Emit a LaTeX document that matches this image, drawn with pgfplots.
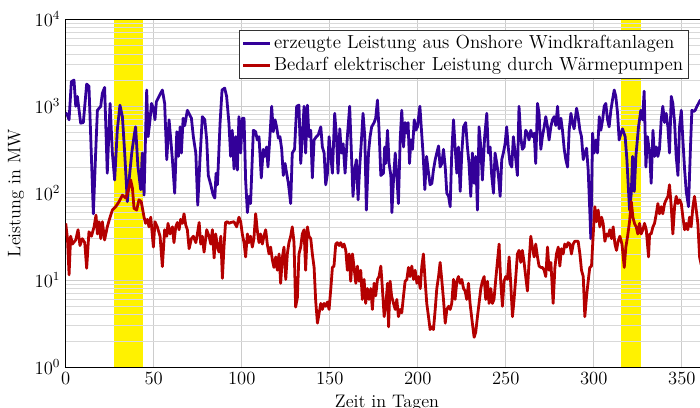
\documentclass[border=0pt]{standalone}
\usepackage{pgfplots}
\pgfplotsset{compat=1.18}
\definecolor{windblue}{RGB}{51,0,153}
\definecolor{heatred}{RGB}{180,0,0}
\begin{document}
\begin{tikzpicture}
\begin{axis}[
  name=ax,
  set layers,
  scale only axis,
  width=414.5pt, height=224.3pt,
  xmin=0, xmax=365,
  ymode=log, ymin=1, ymax=10000,
  xtick={0,50,...,350},
  ytick={1,10,100,1000,10000},
  grid=both,
  major grid style={gray!40, line width=0.6pt},
  minor grid style={gray!30, line width=0.5pt},
  tick style={draw=none},
  tick label style={font=\fontsize{11.7}{14}\selectfont},
  label style={font=\fontsize{11.7}{14}\selectfont},
  xlabel={Zeit in Tagen},
  ylabel={Leistung in MW},
  legend pos=north east,
  legend cell align=left,
  legend style={draw=black!80, fill=white, font=\fontsize{12.2}{14.4}\selectfont, inner sep=1.5pt},
]
\addplot[fill=yellow, draw=none, forget plot, on layer=axis background] coordinates {(27.5,1) (27.5,10000) (44,10000) (44,1)} -- cycle;
\addplot[fill=yellow, draw=none, forget plot, on layer=axis background] coordinates {(315.5,1) (315.5,10000) (327,10000) (327,1)} -- cycle;
\addplot[windblue, line width=1.8pt, line join=round] coordinates {
(0,850) (0.9,794) (1.9,700) (3.2,1920) (4.7,2000) (5.7,1000) (6.6,1300) (8.5,640) (10,650) (11.9,1800) (13.2,1700) (14.2,447) (15.7,58) (17,288) (18,900) (19.9,1000) (20.8,1410) (22.1,1650) (23.6,170) (25.2,1080) (26.5,290) (27.8,142) (29.3,534) (30.8,1030) (32.2,760) (33.5,290) (35,80) (36,142) (37.5,290) (38.8,447) (39.7,580) (41,205) (42.6,110) (43.5,290) (44.5,95)
(46,1540) (46.8,447) (47.9,700) (48.7,1080) (49.8,950) (50.7,700) (51.5,1130) (53,1300) (54.9,1540) (56.2,1080) (57.4,243) (58.7,700) (59.7,410) (60.6,243) (61.9,100) (63.1,510) (64,265) (65,580) (65.7,290) (66.7,730) (67.6,600) (69.1,900) (70,830) (71.4,730) (72.5,447) (73.9,290) (75,73) (76.3,255) (77.6,760) (79,700) (80.1,410) (81,160) (82.4,125) (83.7,96) (84.7,88) (85.4,170) (86.2,125) (87.7,650) (88.8,1540) (90.3,1620)
(91.4,1300) (92.7,650) (93.7,265) (94.6,530) (95.6,190) (96.5,447) (97.5,185) (98.4,760) (99.4,290) (100.3,730) (101.3,730) (102.2,142) (103.2,60) (104.1,92) (105,76) (106.6,530) (107.9,510) (108.8,410) (109.8,447) (111.1,150) (112.2,320) (113,265) (114.1,340) (114.9,200) (116,447) (117,1000) (117.9,510) (118.9,700) (119.8,580) (120.8,430) (121.7,447) (122.7,320) (123.6,160) (124.6,220) (125.5,170) (126.5,130) (127.8,76) (128.7,290) (130,320) (131.2,1000) (132.5,1030) (133.5,220) (134.4,447) (135.4,1000)
(136.3,290) (137.3,1030) (138.2,447) (139.2,530) (140.1,150) (141.1,410) (142.4,447) (143.5,470) (144.9,580) (145.8,340) (146.8,290) (147.7,125) (148.7,170) (149.6,447) (150.6,265) (151.5,170) (152.8,830) (153.8,447) (154.7,170) (155.7,550) (156.6,290) (157.6,370) (158.7,170) (160,447) (161.3,1000) (162.3,290) (163.2,92) (164.2,185) (165.1,243) (166.1,84) (167,200) (168,410) (168.9,830) (169.9,447) (170.8,64) (172,290) (172.9,447) (173.8,580) (175.2,650) (176.1,730) (177.1,1180) (178,530) (179,160) (180.5,170) (181.2,340)
(181.8,220) (182.8,530) (183.7,220) (184.7,160) (185.3,60) (186.2,142) (187.2,290) (188.1,160) (189,76) (190,410) (190.9,900) (191.9,340) (192.8,650) (193.8,490) (194.5,650) (195.3,220) (196.1,410) (197,320) (198,700) (198.9,530) (199.8,580) (201.2,1000) (202.1,530) (203.1,265) (204,110) (205,265) (205.9,185) (207,125) (208,130) (208.9,185) (209.9,243) (210.8,290) (211.8,350) (212.7,200) (213.7,220) (214.6,320) (215.6,200) (216.5,100) (217.5,92) (218.4,70) (219.3,290) (220.3,700) (221.2,340) (222.2,170) (223.1,340) (224.1,105) (225,290) (226,580)
(227.2,650) (228.2,340) (229.1,220) (230.1,92) (231,290) (232,130) (232.9,265) (233.9,64) (234.8,580) (235.8,340) (236.7,142) (238,447) (239.2,830) (240.1,290) (241.1,340) (242,160) (243,100) (243.9,290) (244.9,220) (245.8,160) (246.8,92) (247.7,243) (248.6,290) (249.6,370) (250.5,580) (251.5,320) (252.4,220) (253.4,200) (254.3,447) (255.3,290) (256.6,160) (257.5,1000) (258.5,447) (259.4,320) (260.4,340) (261.3,530) (262.3,490) (263.2,410) (264.2,530) (265.1,447) (266.1,490) (267,220) (268,1080) (268.9,830) (269.9,320) (270.8,447)
(271.8,580) (272.7,760) (273.7,580) (274.6,410) (275.6,580) (276.5,700) (277.5,760) (278.4,600) (279.4,1000) (280.3,550) (281.3,730) (282.2,530) (283.2,320) (284.1,243) (285.1,200) (286,530) (287,830) (287.9,650) (288.8,550) (290.2,950) (291.1,760) (292.1,530) (293,447) (294,243) (294.9,290) (295.9,330) (296.8,185) (297.7,64) (298.3,30) (299.3,490) (300.2,290) (301.2,410) (302.1,290) (303.1,760) (304,530) (305,700) (305.9,1000) (306.8,1080) (307.8,700) (308.7,580) (309.7,900) (310.6,1180) (311.6,1540) (312.5,1300) (313.5,830) (314.4,410)
(315.4,490) (316.3,550) (317.8,447) (318.8,243) (320.3,64) (321.3,100) (322,265) (323,105) (323.9,265) (325.4,580) (326.7,900) (327.7,700) (328.6,1490) (329.6,200) (330.5,447) (331.7,290) (332.6,130) (333.6,530) (334.5,265) (335.5,340) (336.4,265) (337.3,320) (338.3,700) (339.2,1000) (340.2,650) (341.1,830) (342.1,580) (343,290) (344,1300) (344.9,1080) (345.9,650) (346.8,265) (347.8,160) (348.7,580) (349.7,900) (350.6,410) (351.6,185) (352.5,105) (353.8,70) (354.8,290) (355.7,900) (356.7,870) (357.6,900) (358.6,1000) (359.5,1080) (360.5,1180) (361.5,1000) (362.5,1100) (363.5,950) (364.5,1050) (365,1000)
};
\addlegendentry{erzeugte Leistung aus Onshore Windkraftanlagen}
\addplot[heatred, line width=1.8pt, line join=round] coordinates {
(0,45) (1,30) (1.9,11.5) (2.8,32) (3.8,26) (5.7,29) (7,38) (8.1,25) (9.4,30) (10.8,27) (11.9,13.7) (13.2,36) (14.6,32) (16.1,41) (17.2,56) (18,34) (18.9,47) (19.9,30) (20.8,47) (22.1,29) (23.6,41) (25.2,53) (26.5,64) (28.4,70) (30.3,80) (32.2,95) (34.1,88) (35.9,114) (36.9,142) (37.9,114) (38.8,67) (40.3,64) (41.6,84) (42.9,80) (44.5,53)
(45.4,45) (46.4,50) (47.3,41) (48.3,53) (49.8,24) (50.7,47) (52,41) (53.6,32) (54.9,14.3) (56.2,38) (57.4,32) (58.1,45) (59.3,34) (60.6,41) (61.5,27) (62.5,41) (63.4,46) (64.4,38) (65.3,50) (66.3,45) (67.2,58) (68.2,43) (69.1,38) (70.1,23) (71.4,30) (72.5,32) (73.9,27) (74.8,34) (75.8,46) (76.7,26) (77.6,32) (78.6,21) (80.1,38) (81.4,32) (82.4,26) (83.3,38) (84.3,18) (85.2,34) (86.2,24) (87.1,21) (88.1,32) (89,10.5) (89.9,24)
(90.8,46) (91.8,47) (92.7,45) (93.7,46) (95.6,47) (97.1,41) (98.4,53) (99.4,47) (100.3,34) (101.3,27) (102.2,18.5) (103.2,34) (104.1,27) (105,32) (106,24) (106.9,30) (107.9,58) (108.8,38) (109.8,27) (110.7,34) (111.7,26) (112.6,32) (113.6,38) (114.5,26) (115.5,20) (116.4,24) (117.4,17) (118.3,14) (119.3,18.5) (120.2,13) (121.2,20) (122.1,9.2) (123.1,18.5) (124,24) (125,10.2) (125.9,20) (126.8,27) (127.8,32) (128.7,41) (129.7,27) (130.6,4.9) (131.6,6.3) (132.5,20) (133.5,24) (134.4,34) (135.4,38)
(136.3,13) (137.3,41) (138.2,32) (139.2,30) (140.1,20) (141.1,14) (142,5.8) (143,3.2) (143.9,4.1) (144.9,5.4) (145.8,4.6) (146.8,5.4) (147.7,5.0) (148.7,5.6) (149.6,4.6) (150.6,8) (151.5,14) (152.4,14.5) (153.4,26) (154.3,27) (155.3,25) (156.2,27) (157.2,24) (158.1,26) (159.1,22) (160,13) (161,20) (161.9,9.7) (162.9,20) (163.8,14) (164.8,9.2) (165.7,14.5) (166.7,9.7) (167.6,13) (168.5,6) (169.5,10.2) (170.4,5.4) (171.4,8) (172.3,6) (173.3,8) (174.2,4.6) (175.2,9.2) (176.1,6.6) (177.1,10.2) (178,11) (179,14.5) (179.9,8)
(180.9,3.8) (181.8,5) (182.8,9.2) (183.4,2.9) (184.3,9.7) (185.1,6.6) (186.2,5.4) (187.2,4.6) (188.1,6) (189,3.8) (190,4.6) (190.9,4.2) (191.9,6.6) (192.8,9.7) (193.8,10.2) (194.7,14) (195.6,11) (196.6,14.5) (197.6,10.2) (198.5,13) (199.5,9.2) (200.4,11) (201.4,8) (202.3,14.5) (203.2,20) (204.2,9.7) (205.1,5.4) (206.1,3.8) (207,2.7) (208,2.9) (208.9,2.7) (209.9,4.6) (210.8,8) (211.8,11) (212.7,16) (213.7,9.7) (214.6,6) (215.6,3.2) (216.5,4.6) (217.5,5) (218.4,4.6) (219.3,5.4) (220.3,10.2) (221.2,6) (222.2,9.7) (223.1,11) (224.1,9.2) (225,10.2) (226,8)
(226.9,7.5) (227.8,6) (228.8,9.2) (229.7,5.4) (231,3.2) (232,2.2) (232.9,2.5) (233.9,3.8) (234.8,5.4) (235.8,8) (236.7,9.7) (237.7,11) (238.6,6) (239.6,9.7) (240.5,5.4) (241.5,8) (242.4,5.4) (243.3,6) (244.3,10.2) (245.2,16) (246.2,26) (247.1,9.7) (248.1,5) (249,9.7) (250,11) (250.9,10.2) (251.9,18.5) (252.8,9.2) (253.8,3.8) (254.7,6) (255.7,11) (256.6,20) (257.5,22) (258.5,16) (259.4,22) (260.4,16) (261.3,11) (262.3,7.5) (263.2,16) (264.2,32) (265.1,24) (266.1,18.5) (267,26) (268,18.5) (268.9,14.5) (269.9,14) (270.8,14)
(271.8,13) (272.7,11) (273.7,24) (274.6,13) (275.6,16) (276.9,5.4) (277.9,14) (278.8,20) (279.8,24) (280.7,14.5) (281.6,23) (282.6,20) (283.5,26) (284.5,24) (285.4,27) (286.4,26) (287.3,20) (288.3,26) (289.2,28) (290.2,28) (291.1,28) (292.1,20) (293,13) (294,11) (294.9,3.8) (295.9,6.6) (296.8,9.7) (297.7,14) (298.7,14.5) (299.6,32) (300.6,70) (301.5,47) (302.5,64) (303.4,41) (304.4,53) (305.3,45) (306.3,28) (307.2,34) (308.2,32) (309.1,38) (310.1,30) (311,41) (312,26) (312.9,22) (313.8,28) (314.8,32)
(316,26) (317.3,14) (318.2,24) (319.2,32) (320.3,47) (321.3,80) (322.2,53) (323.1,45) (324.1,41) (325,34) (326,45) (326.9,34) (327.9,38) (328.8,45) (329.8,38) (331.1,18.5) (331.7,34) (332.6,34) (333.6,41) (334.5,45) (335.5,58) (336.4,76) (337.3,58) (338.3,70) (339.2,58) (340.2,76) (341.1,84) (342.1,92) (343,125) (344,70) (344.9,34) (345.9,70) (346.8,92) (347.8,76) (348.7,84) (349.7,76) (350.6,53) (351.6,38) (352.5,45) (353.4,38) (354.4,53) (355.3,41) (356.3,70) (357.2,92) (358.2,64) (359.1,45) (360.1,18.5) (361,15) (362,25) (363,35) (364,30) (365,32)
};
\addlegendentry{Bedarf elektrischer Leistung durch Wärmepumpen}
\end{axis}
\pgfresetboundingbox
\path[use as bounding box] ([xshift=-42.4pt,yshift=-25.8pt]ax.south west) rectangle ++(451.6pt,262.6pt);
\end{tikzpicture}
\end{document}
